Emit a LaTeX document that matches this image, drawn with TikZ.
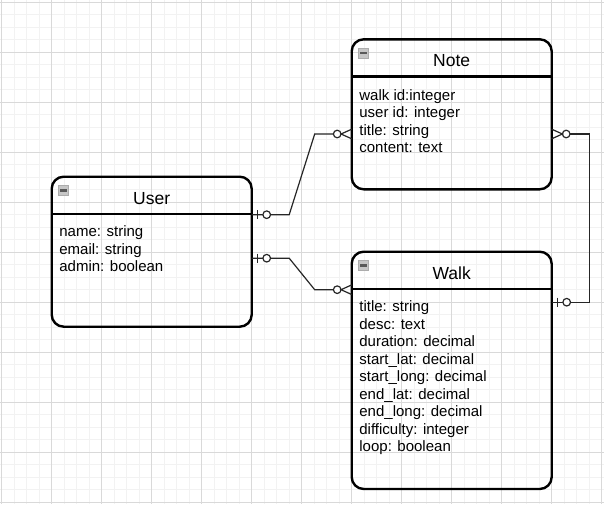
\documentclass[tikz,border=0pt]{standalone}
\usepackage{fontspec}
\setmainfont{Liberation Sans}
\usetikzlibrary{calc}
\newcommand\erZeroOne[2]{%
  \draw[conn] ($(#1)+(#2*5.5,-4.5)$) -- ($(#1)+(#2*5.5,4.5)$);
  \draw[conn,fill=white] ($(#1)+(#2*15,0)$) circle[radius=3.8pt];
}
\newcommand\erZeroMany[2]{%
  \draw[conn,fill=white] ($(#1)+(#2*14.5,0)$) circle[radius=3.8pt];
  \draw[conn] ($(#1)+(0,-4.8)$) -- ($(#1)+(#2*10.7,0)$) -- ($(#1)+(0,4.8)$);
}
\begin{document}
\begin{tikzpicture}[x=1pt,y=-1pt,
  entity/.style={draw=black, line width=2.4pt, rounded corners=12pt, anchor=north west,
    minimum width=200pt, outer sep=0pt, inner sep=0pt},
  hdr/.style={draw=black, line width=2.4pt},
  ttl/.style={anchor=base, inner sep=0pt, font=\fontsize{17.5}{21}\selectfont},
  attr/.style={anchor=base west, inner sep=0pt, font=\fontsize{15}{18}\selectfont},
  icon/.style={draw=gray!65, fill=gray!45, minimum size=10.5pt, inner sep=0pt, outer sep=0pt,
    line width=0.6pt,
    path picture={\fill[black!65] ([xshift=1.5pt,yshift=1.2pt]path picture bounding box.west)
      rectangle ([xshift=-1.5pt,yshift=-1.2pt]path picture bounding box.east);}},
  conn/.style={draw=black!85, line width=1.2pt},
  minorgrid/.style={draw=black!5, line width=0.9pt},
  majorgrid/.style={draw=black!15, line width=0.9pt}
]
\useasboundingbox (0,0) rectangle (604,504);
\fill[white] (0,0) rectangle (604,504);
% grid
\foreach \i in {0,...,48} {
  \draw[minorgrid] (1.7+12.5*\i,0) -- (1.7+12.5*\i,504);
}
\foreach \i in {0,...,40} {
  \draw[minorgrid] (0,2.3+12.5*\i) -- (604,2.3+12.5*\i);
}
\foreach \i in {0,...,12} {
  \draw[majorgrid] (1.7+50*\i,0) -- (1.7+50*\i,504);
}
\foreach \i in {0,...,10} {
  \draw[majorgrid] (0,2.3+50*\i) -- (604,2.3+50*\i);
}

% entities
\node[entity, minimum height=150pt] (user) at (51.7,176.7) {};
\node[entity, minimum height=150pt] (note) at (351.7,39.3) {};
\node[entity, minimum height=237.3pt] (walk) at (351.7,251.7) {};

\foreach \e/\t in {user/User, note/Note, walk/Walk} {
  \draw[hdr] ($(\e.north west)+(0,37.3)$) -- ($(\e.north east)+(0,37.3)$);
  \node[ttl] (\e T) at ($(\e.north)+(0,27.3)$) {\t};
  \node[icon] (\e I) at ($(\e.north west)+(11.6,13.8)$) {};
}

\foreach \t [count=\i from 0] in {name: string, email: string, admin: boolean}
  \node[attr] (userR\i) at ($(user.north west)+(7.5,60+17.5*\i)$) {\t};
\foreach \t [count=\i from 0] in {walk id:integer, user id: integer, title: string, content: text}
  \node[attr] (noteR\i) at ($(note.north west)+(7.5,60.7+17.5*\i)$) {\t};
\foreach \t [count=\i from 0] in {title: string, desc: text, duration: decimal,
    start\_lat: decimal, start\_long: decimal, end\_lat: decimal, end\_long: decimal,
    difficulty: integer, loop: boolean}
  \node[attr] (walkR\i) at ($(walk.north west)+(7.5,60+17.5*\i)$) {\t};

% connector end points
\coordinate (u1) at ($(user.north east)+(0,38)$);
\coordinate (u2) at ($(user.north east)+(0,81.5)$);
\coordinate (n1) at ($(note.north west)+(0,94.7)$);
\coordinate (n2) at ($(note.north east)+(0,94.7)$);
\coordinate (w1) at ($(walk.north west)+(0,38)$);
\coordinate (w2) at ($(walk.north east)+(0,50.5)$);

% connectors
\draw[conn] (u1) -- ++(37.5,0) -- ($(n1)+(-37,0)$) -- ($(n1)+(-14.5,0)$);
\draw[conn] (u2) -- ++(37.5,0) -- ($(w1)+(-37,0)$) -- ($(w1)+(-14.5,0)$);
\draw[conn] (w2) -- ++(38,0) -- ($(n2)+(38,0)$) -- ($(n2)+(14.5,0)$);

\erZeroOne{u1}{1}
\erZeroOne{u2}{1}
\erZeroOne{w2}{1}
\erZeroMany{n1}{-1}
\erZeroMany{w1}{-1}
\erZeroMany{n2}{1}
\end{tikzpicture}
\end{document}
